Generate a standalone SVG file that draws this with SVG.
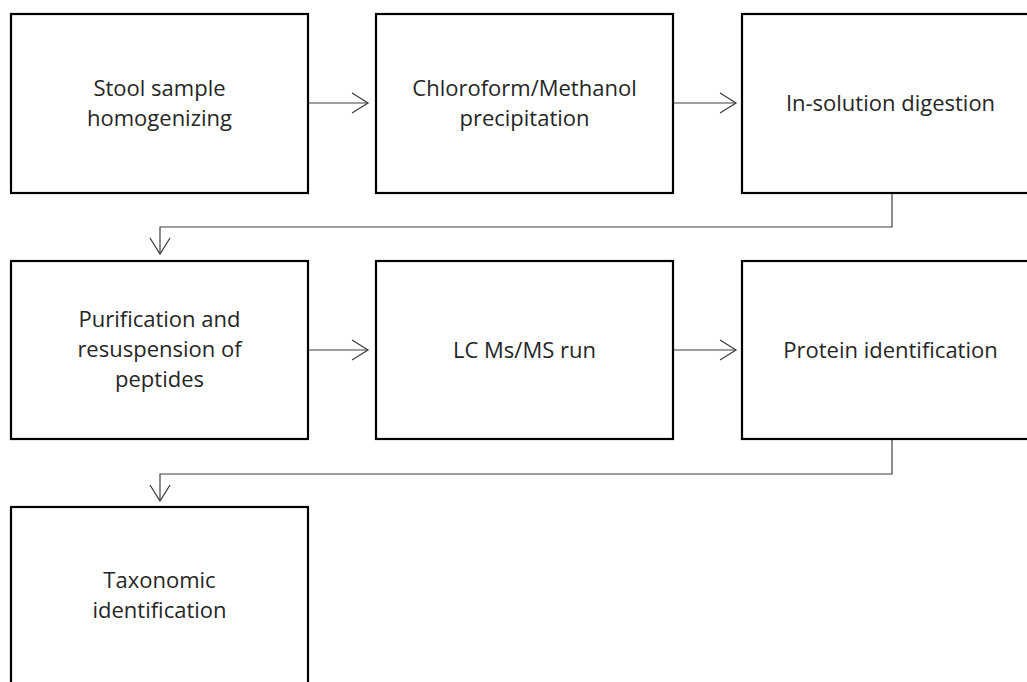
<svg xmlns="http://www.w3.org/2000/svg" width="1027" height="682" viewBox="0 0 1027 682">
<style>
.box{fill:#fff;stroke:#000;stroke-width:2.2}
.lbl{font-family:"Open Sans","Liberation Sans",sans-serif;font-size:22px;fill:#262626;text-anchor:middle;font-variant-ligatures:none}
.arr{fill:none;stroke:#7f7f7f;stroke-width:1.6;marker-end:url(#ah)}
.elb{fill:none;stroke:#404040;stroke-width:1.2;marker-end:url(#ah)}
</style>
<defs>
<marker id="ah" markerUnits="userSpaceOnUse" markerWidth="20" markerHeight="24" viewBox="-2 -2 20 24" refX="16" refY="10" orient="auto">
<path d="M0,0 L16,10 L0,20" fill="none" stroke="#404040" stroke-width="1.3"/>
</marker>
</defs>
<rect width="1027" height="682" fill="#fff"/>
<g id="connectors">
<path class="arr" d="M308,103 H368"/>
<path class="arr" d="M673,103 H736"/>
<path class="elb" d="M892,193 V227 H160 V254"/>
<path class="arr" d="M308,350 H368"/>
<path class="arr" d="M673,350 H736"/>
<path class="elb" d="M892,439 V474 H160 V501"/>
</g>
<g id="n1"><rect class="box" x="11" y="14" width="297" height="179"/>
<text class="lbl"><tspan x="159.5" y="96">Stool sample</tspan><tspan x="159.5" y="126">homogenizing</tspan></text></g>
<g id="n2"><rect class="box" x="376" y="14" width="297" height="179"/>
<text class="lbl"><tspan x="524.5" y="96">Chloroform/Methanol</tspan><tspan x="524.5" y="126">precipitation</tspan></text></g>
<g id="n3"><rect class="box" x="742" y="14" width="297" height="179"/>
<text class="lbl" x="890.5" y="111">In-solution digestion</text></g>
<g id="n4"><rect class="box" x="11" y="261" width="297" height="178"/>
<text class="lbl"><tspan x="159.5" y="327">Purification and</tspan><tspan x="159.5" y="357">resuspension of</tspan><tspan x="159.5" y="387">peptides</tspan></text></g>
<g id="n5"><rect class="box" x="376" y="261" width="297" height="178"/>
<text class="lbl" x="524.5" y="358">LC Ms/MS run</text></g>
<g id="n6"><rect class="box" x="742" y="261" width="297" height="178"/>
<text class="lbl" x="890.5" y="358">Protein identification</text></g>
<g id="n7"><rect class="box" x="11" y="507" width="297" height="178"/>
<text class="lbl"><tspan x="159.5" y="588">Taxonomic</tspan><tspan x="159.5" y="618">identification</tspan></text></g>
</svg>
